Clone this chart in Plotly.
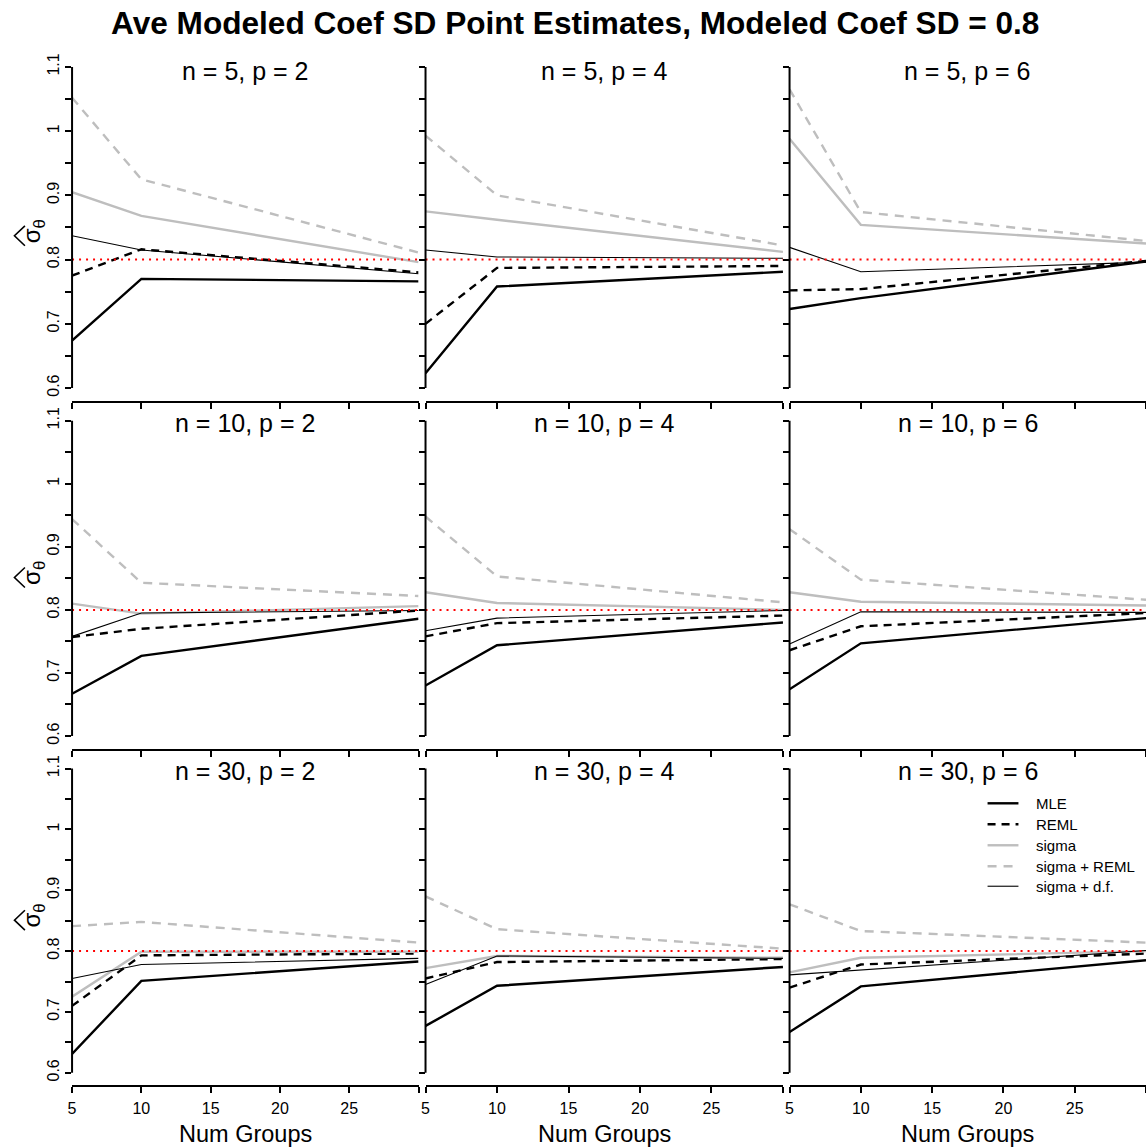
import plotly.graph_objects as go

# ---------------- data ----------------
main_title = "Ave Modeled Coef SD Point Estimates, Modeled Coef SD = 0.8"
num_groups = [5, 10, 30]
true_sd = 0.8
n_values = [5, 10, 30]      # rows
p_values = [2, 4, 6]        # columns
x_ticks = [5, 10, 15, 20, 25, 30]
x_tick_labels = ["5", "10", "15", "20", "25", ""]
y_ticks = [0.6, 0.65, 0.7, 0.75, 0.8, 0.85, 0.9, 0.95, 1.0, 1.05, 1.1]
y_tick_labels = ["0.6", "", "0.7", "", "0.8", "", "0.9", "", "1", "", "1.1"]
series_names = ["MLE", "REML", "sigma", "sigma + REML", "sigma + d.f."]

# one row per panel: (n=5,p=2), (n=5,p=4), (n=5,p=6), (n=10,p=2), ... (n=30,p=6)
mle = [
    [0.674, 0.770, 0.766],
    [0.623, 0.758, 0.781],
    [0.723, 0.740, 0.797],
    [0.667, 0.727, 0.786],
    [0.680, 0.744, 0.780],
    [0.674, 0.747, 0.787],
    [0.631, 0.751, 0.783],
    [0.677, 0.743, 0.774],
    [0.667, 0.742, 0.785],
]
reml = [
    [0.775, 0.816, 0.780],
    [0.700, 0.787, 0.790],
    [0.752, 0.754, 0.798],
    [0.757, 0.770, 0.799],
    [0.758, 0.779, 0.791],
    [0.736, 0.774, 0.795],
    [0.710, 0.793, 0.796],
    [0.755, 0.782, 0.787],
    [0.740, 0.778, 0.796],
]
sigma = [
    [0.905, 0.868, 0.796],
    [0.875, 0.862, 0.812],
    [0.988, 0.854, 0.825],
    [0.810, 0.794, 0.806],
    [0.828, 0.811, 0.800],
    [0.828, 0.813, 0.807],
    [0.725, 0.799, 0.799],
    [0.772, 0.792, 0.789],
    [0.765, 0.789, 0.800],
]
sigma_reml = [
    [1.052, 0.925, 0.811],
    [0.993, 0.900, 0.822],
    [1.065, 0.874, 0.829],
    [0.944, 0.843, 0.822],
    [0.948, 0.853, 0.812],
    [0.928, 0.848, 0.816],
    [0.841, 0.848, 0.814],
    [0.890, 0.836, 0.804],
    [0.877, 0.833, 0.814],
]
sigma_df = [
    [0.837, 0.815, 0.778],
    [0.815, 0.804, 0.802],
    [0.819, 0.781, 0.796],
    [0.758, 0.795, 0.799],
    [0.767, 0.787, 0.799],
    [0.746, 0.797, 0.796],
    [0.755, 0.778, 0.788],
    [0.745, 0.792, 0.788],
    [0.761, 0.769, 0.801],
]

# ---------------- layout / styles ----------------
W, H = 1146, 1147
FONT = "Liberation Sans, Arial, Helvetica, sans-serif"
GRAY = "#BEBEBE"
col_px = [(68.3, 416.0), (423.0, 781.7), (788.3, 1146.0)]
row_px = [(53.1, 400.2), (407.4, 748.3), (756.1, 1084.9)]   # top, bottom (pixels)
title_y_px = [70, 422, 771]
ylab_y_px = [230, 572, 915]
legend_rows_px = [803, 824, 845, 866, 886]
Y_RANGE = [0.58, 1.12]

styles = [
    dict(color="black", width=2.4, dash="solid"),
    dict(color="black", width=2.4, dash="8px,6px"),
    dict(color=GRAY, width=2.4, dash="solid"),
    dict(color=GRAY, width=2.4, dash="9px,7px"),
    dict(color="black", width=1.1, dash="solid"),
]
all_series = [mle, reml, sigma, sigma_reml, sigma_df]

fig = go.Figure()
annotations = []
shapes = []
layout = {}

for r, n in enumerate(n_values):
    for c, p in enumerate(p_values):
        k = r * 3 + c
        idx = "" if k == 0 else str(k + 1)
        xa, ya = "x" + idx, "y" + idx
        x0, x1 = col_px[c]
        top, bot = row_px[r]
        layout["xaxis" + idx] = dict(
            domain=[x0 / W, x1 / W], anchor=ya, range=[min(num_groups), max(num_groups)],
            showgrid=False, zeroline=False, showline=True, linecolor="black", linewidth=2,
            ticks="outside", ticklen=6, tickwidth=2, tickcolor="black",
            tickmode="array", tickvals=x_ticks,
            ticktext=x_tick_labels if r == 2 else [""] * len(x_ticks),
            tickfont=dict(size=16, color="black", family=FONT),
            ticklabelstandoff=2,
        )
        layout["yaxis" + idx] = dict(
            domain=[1 - bot / H, 1 - top / H], anchor=xa, range=Y_RANGE,
            showgrid=False, zeroline=False, showline=False,
            ticks="outside", ticklen=6, tickwidth=2, tickcolor="black",
            tickmode="array", tickvals=y_ticks,
            ticktext=y_tick_labels if c == 0 else [""] * len(y_ticks),
            tickangle=-90, tickfont=dict(size=16, color="black", family=FONT),
        )
        # y axis line only between first and last tick (R style)
        shapes.append(dict(type="line", xref="paper", yref=ya,
                           x0=x0 / W, x1=x0 / W, y0=y_ticks[0], y1=y_ticks[-1],
                           line=dict(color="black", width=2)))
        for s, (name, series) in enumerate(zip(series_names, all_series)):
            fig.add_trace(go.Scatter(
                x=num_groups, y=series[k], mode="lines", name=name,
                line=styles[s], xaxis=xa, yaxis=ya,
                showlegend=False, hoverinfo="skip",
            ))
        fig.add_trace(go.Scatter(
            x=[min(num_groups), max(num_groups)], y=[true_sd, true_sd], mode="lines",
            line=dict(color="red", width=2, dash="2px,5px"),
            xaxis=xa, yaxis=ya, showlegend=False, hoverinfo="skip",
        ))
        annotations.append(dict(
            text=f"n = {n}, p = {p}", xref="paper", yref="paper",
            x=(x0 + x1) / 2 / W, y=1 - title_y_px[r] / H, xanchor="center", yanchor="middle",
            showarrow=False, font=dict(size=25, color="black", family=FONT),
        ))
        if c == 0:
            yc = ylab_y_px[r]
            annotations.append(dict(
                text="σ<sub>θ</sub>", xref="paper", yref="paper",
                x=29.5 / W, y=1 - yc / H, xanchor="center", yanchor="middle",
                textangle=-90, showarrow=False,
                font=dict(size=24, color="black", family=FONT),
            ))
            # the hat over sigma (rotated, so it points left)
            ys = yc + 5
            shapes.append(dict(
                type="path", xref="paper", yref="paper",
                path=f"M {21 / W},{1 - (ys - 10) / H} L {10.5 / W},{1 - ys / H} L {21 / W},{1 - (ys + 10) / H}",
                line=dict(color="black", width=1.6),
            ))
        if r == 2:
            annotations.append(dict(
                text="Num Groups", xref="paper", yref="paper",
                x=(x0 + x1) / 2 / W, y=1 - 1134 / H, xanchor="center", yanchor="middle",
                showarrow=False, font=dict(size=23.5, color="black", family=FONT),
            ))

# legend (drawn in the last panel, R style)
for s, name in enumerate(series_names):
    yp = 1 - legend_rows_px[s] / H
    shapes.append(dict(type="line", xref="paper", yref="paper",
                       x0=987 / W, x1=1018 / W, y0=yp, y1=yp, line=styles[s]))
    annotations.append(dict(
        text=name, xref="paper", yref="paper", x=1034 / W, y=yp,
        xanchor="left", yanchor="middle", showarrow=False,
        font=dict(size=15, color="black", family=FONT),
    ))

annotations.append(dict(
    text="<b>" + main_title + "</b>", xref="paper", yref="paper",
    x=0.5, y=1 - 22 / H, xanchor="center", yanchor="middle", showarrow=False,
    font=dict(size=31.6, color="black", family=FONT),
))

fig.update_layout(
    width=W, height=H, margin=dict(l=0, r=0, t=0, b=0),
    paper_bgcolor="white", plot_bgcolor="white",
    font=dict(family=FONT, color="black"),
    annotations=annotations, shapes=shapes,
    showlegend=False,
    **layout,
)

fig.write_html("out.html", config={"displayModeBar": False},
               post_script="document.body.style.margin='0';document.body.style.overflow='hidden';")
